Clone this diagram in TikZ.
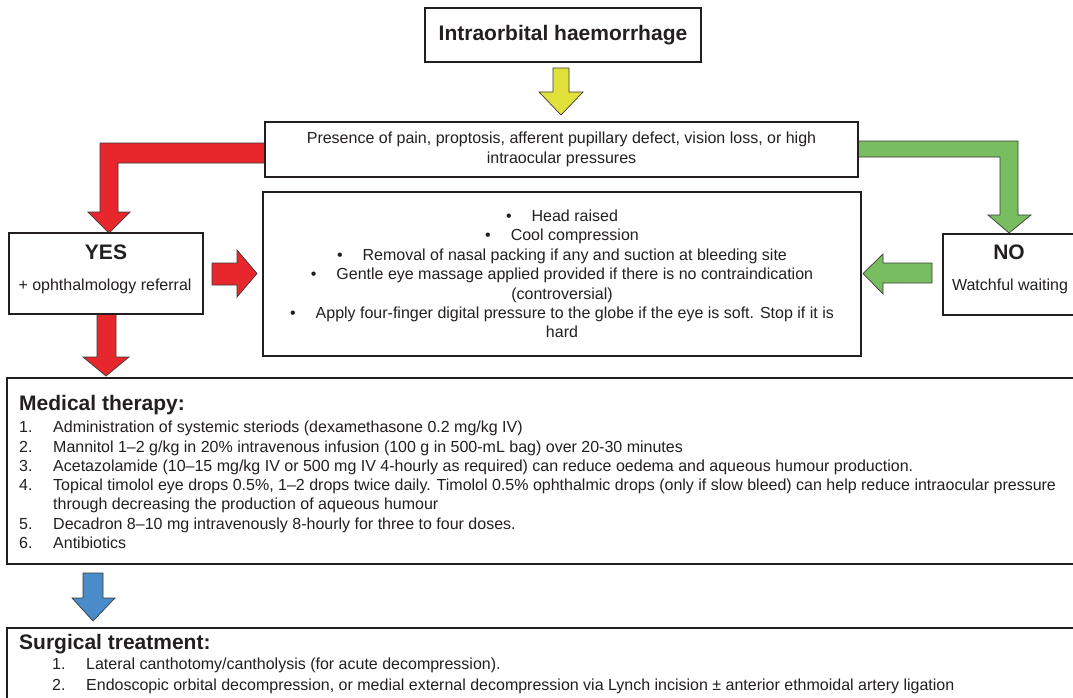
\documentclass[tikz,border=0pt]{standalone}
\usepackage{fontspec}
\setmainfont{Liberation Sans}
\usetikzlibrary{calc}
\definecolor{boxc}{HTML}{231F20}
\definecolor{arrline}{HTML}{3A3A3A}
\definecolor{redc}{HTML}{E8272D}
\definecolor{greenc}{HTML}{78BE60}
\definecolor{yellowc}{HTML}{E2E13B}
\definecolor{bluec}{HTML}{4A8BC9}
\definecolor{txt}{HTML}{231F20}
\begin{document}
\begin{tikzpicture}[x=1pt,y=-1pt,
  box/.style={draw=boxc, line width=1.8pt, fill=white, inner sep=0pt, text=txt},
  arr/.style={draw=arrline, line width=0.7pt, line join=miter},
  body/.style={font=\fontsize{16}{19.3}\selectfont, inner sep=0pt, text=txt},
  head/.style={font=\bfseries\fontsize{21}{25}\selectfont, inner sep=0pt, text=txt}]
\useasboundingbox (0,0) rectangle (1073,697);

% ---- block arrows (drawn first) ----
\draw[arr, fill=yellowc] (553,68) -- (569,68) -- (569,92) -- (583,92) -- (561,115) -- (539,92) -- (553,92) -- cycle;
\draw[arr, fill=redc] (265,143) -- (100,143) -- (100,212) -- (88,212) -- (109,233) -- (130,212) -- (118,212) -- (118,163) -- (265,163) -- cycle;
\draw[arr, fill=greenc] (858,141) -- (1018,141) -- (1018,215) -- (1031,215) -- (1009,233) -- (988,215) -- (1000,215) -- (1000,157) -- (858,157) -- cycle;
\draw[arr, fill=redc] (212,263) -- (237,263) -- (237,250) -- (257,273.5) -- (237,297) -- (237,285) -- (212,285) -- cycle;
\draw[arr, fill=greenc] (932,263) -- (883,263) -- (883,254) -- (863,273.5) -- (883,294) -- (883,283) -- (932,283) -- cycle;
\draw[arr, fill=redc] (97,314) -- (116,314) -- (116,357) -- (129,357) -- (106,376) -- (83,357) -- (97,357) -- cycle;
\draw[arr, fill=bluec] (83,573) -- (103,573) -- (103,598) -- (115,598) -- (93,621) -- (72,598) -- (83,598) -- cycle;

% ---- boxes ----
\node[box, minimum width=276pt, minimum height=54pt, font=\bfseries\fontsize{21}{25}\selectfont] (top) at (563,35) {Intraorbital haemorrhage};

\node[box, minimum width=593pt, minimum height=55pt, align=center, font=\fontsize{16}{19.3}\selectfont] (pres) at (561.5,149.5)
  {Presence of pain, proptosis, afferent pupillary defect, vision loss, or high\\intraocular pressures};

\node[box, minimum width=598pt, minimum height=164pt, align=center, font=\fontsize{16}{19.4}\selectfont] (mid) at (562,274)
  {\textbullet\hspace{20pt}Head raised\\
   \textbullet\hspace{20pt}Cool compression\\
   \textbullet\hspace{20pt}Removal of nasal packing if any and suction at bleeding site\\
   \textbullet\hspace{20pt}Gentle eye massage applied provided if there is no contraindication\\
   (controversial)\\
   \textbullet\hspace{20pt}Apply four-finger digital pressure to the globe if the eye is soft. Stop if it is\\
   hard};

\node[box, minimum width=194pt, minimum height=81pt] (yes) at (106,273.5) {};
\node[head] (yesl) at (106,252) {YES};
\node[body] (yesr) at (105,286) {+ ophthalmology referral};

\node[box, anchor=north west, minimum width=145pt, minimum height=81pt] (no) at (942,233) {};
\node[head] (nol) at (1009,252) {NO};
\node[body] (nor) at (1010,286) {Watchful waiting};

\node[box, anchor=north west, minimum width=1085pt, minimum height=186pt] (med) at (6,377) {};
\node[head, anchor=base west] (medt) at (19,410.5) {Medical therapy:};
\node[body, anchor=north west] (medl) at (19,419) {%
  \begin{tabular}{@{}p{34pt}@{}l@{}}
  1. & Administration of systemic steriods (dexamethasone 0.2 mg/kg IV)\\
  2. & Mannitol 1–2 g/kg in 20\% intravenous infusion (100 g in 500-mL bag) over 20-30 minutes\\
  3. & Acetazolamide (10–15 mg/kg IV or 500 mg IV 4-hourly as required) can reduce oedema and aqueous humour production.\\
  4. & Topical timolol eye drops 0.5\%, 1–2 drops twice daily. Timolol 0.5\% ophthalmic drops (only if slow bleed) can help reduce intraocular pressure\\
     & through decreasing the production of aqueous humour\\
  5. & Decadron 8–10 mg intravenously 8-hourly for three to four doses.\\
  6. & Antibiotics
  \end{tabular}};

\node[box, anchor=north west, minimum width=1085pt, minimum height=100pt] (surg) at (6,627) {};
\node[head, anchor=base west] (surgt) at (19,649) {Surgical treatment:};
\node[body, anchor=north west, font=\fontsize{16}{21}\selectfont] (surgl) at (52,655) {%
  \begin{tabular}{@{}p{34pt}@{}l@{}}
  1. & Lateral canthotomy/cantholysis (for acute decompression).\\
  2. & Endoscopic orbital decompression, or medial external decompression via Lynch incision ± anterior ethmoidal artery ligation
  \end{tabular}};
\end{tikzpicture}
\end{document}
